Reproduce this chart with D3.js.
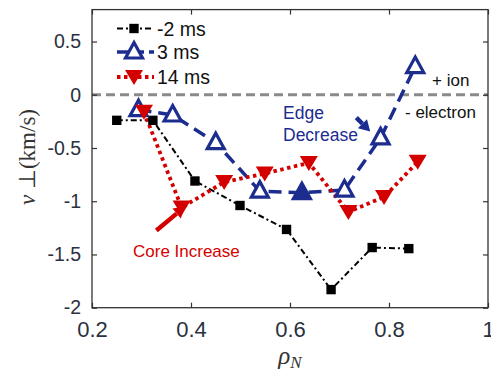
<!DOCTYPE html>
<html><head><meta charset="utf-8">
<script src="https://cdn.jsdelivr.net/npm/d3@7"></script>
<style>body{margin:0;background:#fff}svg{display:block}</style>
</head><body>
<script>
const seriesNames = ["-2 ms", "3 ms", "14 ms"];
const rho_m2 = [0.25, 0.323, 0.408, 0.499, 0.593, 0.683, 0.766, 0.840];
const v_m2   = [-0.24, -0.24, -0.81, -1.04, -1.265, -1.83, -1.435, -1.445];
const rho_3  = [0.294, 0.363, 0.45, 0.539, 0.624, 0.71, 0.783, 0.853];
const v_3    = [-0.14, -0.19, -0.45, -0.905, -0.92, -0.895, -0.405, 0.265];
const rho_14 = [0.305, 0.381, 0.467, 0.549, 0.638, 0.718, 0.79, 0.858];
const v_14   = [-0.16, -1.06, -0.82, -0.74, -0.64, -1.1, -0.96, -0.63];
const filled3 = [4];
const xTicks = [0.2, 0.4, 0.6, 0.8, 1];
const yTicks = [0.5, 0, -0.5, -1, -1.5, -2];
const xTickLabels = ["0.2", "0.4", "0.6", "0.8", "1"];
const yTickLabels = ["0.5", "0", "-0.5", "-1", "-1.5", "-2"];

const W = 491, H = 374;
const L = 92, R = 488, T = 9.6, B = 307.7;
const svg = d3.select("body").append("svg").attr("width", W).attr("height", H);
const x = d3.scaleLinear().domain([0.2, 1]).range([L, R]);
const y = d3.scaleLinear().domain([-2, 0.8]).range([B, T]);

const blue = "#1c2d8f", red = "#d40000", black = "#000";
const axisCol = "#333";

// zero line
svg.append("line").attr("x1", L).attr("x2", R).attr("y1", y(0)).attr("y2", y(0))
  .attr("stroke", "#8a8a8a").attr("stroke-width", 3).attr("stroke-dasharray", "9,5");

// axes
const ax = d3.axisBottom(x).tickValues(xTicks).tickFormat((d,i)=>xTickLabels[i]).tickSizeInner(-5).tickSizeOuter(0).tickPadding(14);
const gB = svg.append("g").attr("transform", `translate(0,${B})`).call(ax);
const axT = d3.axisTop(x).tickValues(xTicks).tickFormat("").tickSizeInner(-5).tickSizeOuter(0);
const gT = svg.append("g").attr("transform", `translate(0,${T})`).call(axT);
const ay = d3.axisLeft(y).tickValues(yTicks).tickFormat((d,i)=>yTickLabels[i]).tickSizeInner(-5).tickSizeOuter(0).tickPadding(11);
const gL = svg.append("g").attr("transform", `translate(${L},0)`).call(ay);
const ayR = d3.axisRight(y).tickValues(yTicks).tickFormat("").tickSizeInner(-5).tickSizeOuter(0);
const gR = svg.append("g").attr("transform", `translate(${R},0)`).call(ayR);
[gB, gT, gL, gR].forEach(g => {
  g.select(".domain").remove();
  g.selectAll("line").attr("stroke", axisCol).attr("stroke-width", 1.2);
});
gB.selectAll("text").attr("font-family", "Liberation Sans, Arial, sans-serif").attr("font-size", 22).attr("fill", "#2a3140");
gL.selectAll("text").attr("font-family", "Liberation Sans, Arial, sans-serif").attr("font-size", 19.5).attr("fill", "#2a3140");
svg.append("rect").attr("x", L).attr("y", T).attr("width", R - L).attr("height", B - T)
  .attr("fill", "none").attr("stroke", axisCol).attr("stroke-width", 1.3);

// series
const mk = (xs, ys) => xs.map((d, i) => [d, ys[i]]);
const line = d3.line().x(d => x(d[0])).y(d => y(d[1]));
const dM2 = mk(rho_m2, v_m2), d3ms = mk(rho_3, v_3), d14 = mk(rho_14, v_14);

svg.append("path").datum(dM2).attr("d", line).attr("fill", "none").attr("stroke", black)
  .attr("stroke-width", 2).attr("stroke-dasharray", "6,3,2,3");
svg.append("path").datum(d3ms).attr("d", line).attr("fill", "none").attr("stroke", blue)
  .attr("stroke-width", 3.5).attr("stroke-dasharray", "13,7");
svg.append("path").datum(d14).attr("d", line).attr("fill", "none").attr("stroke", red)
  .attr("stroke-width", 3.8).attr("stroke-dasharray", "3.5,3.5");

const sq = d3.symbol().type(d3.symbolSquare).size(88);
const triUp = "M0,-9.5L8.5,6L-8.5,6Z";
const triDn = "M0,8L-9,-7L9,-7Z";

svg.selectAll(".m2").data(dM2).enter().append("path").attr("d", sq)
  .attr("transform", d => `translate(${x(d[0])},${y(d[1])})`).attr("fill", black);
svg.selectAll(".m3").data(d3ms).enter().append("path").attr("d", triUp)
  .attr("transform", d => `translate(${x(d[0])},${y(d[1])})`)
  .attr("fill", (d, i) => filled3.includes(i) ? blue : "#fff")
  .attr("stroke", blue).attr("stroke-width", 3.2).attr("stroke-linejoin", "miter");
svg.selectAll(".m14").data(d14).enter().append("path").attr("d", triDn)
  .attr("transform", d => `translate(${x(d[0])},${y(d[1])})`).attr("fill", red);

// annotations
function arrow(x1, y1, x2, y2, col) {
  const ang = Math.atan2(y2 - y1, x2 - x1);
  const hl = 11, hw = 6.5;
  const bx = x2 - hl * Math.cos(ang), by = y2 - hl * Math.sin(ang);
  svg.append("line").attr("x1", x1).attr("y1", y1).attr("x2", bx).attr("y2", by)
    .attr("stroke", col).attr("stroke-width", 4.5);
  const px = -Math.sin(ang) * hw, py = Math.cos(ang) * hw;
  svg.append("path").attr("d", `M${x2},${y2}L${bx + px},${by + py}L${bx - px},${by - py}Z`).attr("fill", col);
}
arrow(x(0.33), y(-1.275), x(0.388), y(-1.05), red);
arrow(x(0.734), y(-0.215), x(0.762), y(-0.345), blue);

const sans = "Liberation Sans, Arial, sans-serif";
svg.append("text").attr("x", 283).attr("y", 119).text("Edge").attr("fill", blue).attr("font-family", sans).attr("font-size", 17.5);
svg.append("text").attr("x", 283).attr("y", 141).text("Decrease").attr("fill", blue).attr("font-family", sans).attr("font-size", 17.5);
svg.append("text").attr("x", 133).attr("y", 257).text("Core Increase").attr("fill", red).attr("font-family", sans).attr("font-size", 17);
svg.append("text").attr("x", 432).attr("y", 86).text("+ ion").attr("fill", "#111").attr("font-family", sans).attr("font-size", 17);
svg.append("text").attr("x", 405).attr("y", 118).text("- electron").attr("fill", "#111").attr("font-family", sans).attr("font-size", 17);

// legend
const legY = [28.5, 52, 77];
const legStyles = [
  {col: black, w: 2.2, dash: "6,3,2,3", m: "sq"},
  {col: blue, w: 3.5, dash: "11,5", m: "up"},
  {col: red, w: 3.8, dash: "3.5,3.5", m: "dn"}
];
seriesNames.forEach((n, i) => {
  const s = legStyles[i], yy = legY[i];
  svg.append("line").attr("x1", 117).attr("x2", 154).attr("y1", yy).attr("y2", yy)
    .attr("stroke", s.col).attr("stroke-width", s.w).attr("stroke-dasharray", s.dash);
  const g = svg.append("g").attr("transform", `translate(134,${yy})`);
  if (s.m === "sq") g.append("path").attr("d", sq).attr("fill", black);
  if (s.m === "up") g.append("path").attr("d", triUp).attr("fill", "#fff").attr("stroke", blue).attr("stroke-width", 3.2);
  if (s.m === "dn") g.append("path").attr("d", triDn).attr("fill", red);
  svg.append("text").attr("x", 157).attr("y", yy + 7).text(n).attr("fill", "#111")
    .attr("font-family", sans).attr("font-size", 19.5);
});

// axis labels
const xl = svg.append("text").attr("x", 290).attr("y", 364).attr("text-anchor", "middle")
  .attr("font-family", "Liberation Serif, serif").attr("fill", "#333");
xl.append("tspan").text("ρ").attr("font-style", "italic").attr("font-size", 25);
xl.append("tspan").text("N").attr("font-style", "italic").attr("font-size", 17).attr("dy", 4);

const yl = svg.append("text").attr("transform", "translate(35,157) rotate(-90)").attr("text-anchor", "middle")
  .attr("font-family", "Liberation Serif, serif").attr("fill", "#333").attr("font-size", 23);
yl.append("tspan").text("v").attr("font-style", "italic");
yl.append("tspan").text("  ⊥(km/s)");
</script>
</body></html>
